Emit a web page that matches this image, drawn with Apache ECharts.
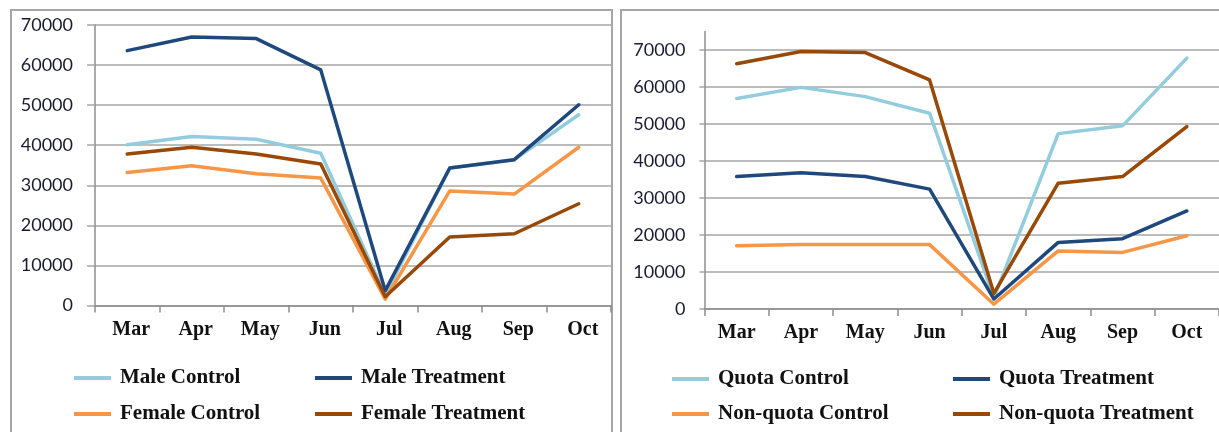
<!DOCTYPE html>
<html>
<head>
<meta charset="utf-8">
<script src="https://cdn.jsdelivr.net/npm/echarts@6/dist/echarts.min.js"></script>
<style>
html,body{margin:0;padding:0;background:#fff;}
#c{width:1219px;height:432px;}
</style>
</head>
<body>
<div id="c"></div>
<script>
const months = ['Mar','Apr','May','Jun','Jul','Aug','Sep','Oct'];
const yTicks = [0,10000,20000,30000,40000,50000,60000,70000];

const maleControl      = [40100, 42200, 41500, 38000, 2600, 34300, 36400, 47600];
const maleTreatment    = [63600, 67000, 66600, 58800, 3700, 34300, 36400, 50100];
const femaleControl    = [33200, 34900, 32900, 31800, 1600, 28600, 27800, 39500];
const femaleTreatment  = [37800, 39500, 37800, 35300, 2200, 17100, 17900, 25400];

const quotaControl       = [56900, 59900, 57400, 52900, 3000, 47400, 49500, 67800];
const quotaTreatment     = [35800, 36800, 35800, 32400, 2700, 18000, 19000, 26500];
const nonQuotaControl    = [17100, 17400, 17400, 17400, 1300, 15700, 15300, 19800];
const nonQuotaTreatment  = [66300, 69600, 69300, 61900, 4200, 34000, 35800, 49300];

const C_LIGHT = '#93cddd', C_DARK = '#1f497d', C_ORANGE = '#f79646', C_BROWN = '#984807';

const chart = echarts.init(document.getElementById('c'), null, {renderer:'canvas'});

const gridCol = '#a6a6a6';
function xAxis(gi, offsetPad){
  return {
    type:'category', gridIndex:gi, data:months, boundaryGap:true,
    axisLine:{show:true, lineStyle:{color:'#8c8c8c', width:1.5}},
    axisTick:{show:true, length:7, lineStyle:{color:'#8c8c8c', width:1.5}},
    axisLabel:{margin:14, fontFamily:'Liberation Serif', fontWeight:'bold', fontSize:20, color:'#111', padding:[0,0,0,offsetPad]},
    splitLine:{show:false}
  };
}
function yAxis(gi, max, tickLen, margin){
  return {
    type:'value', gridIndex:gi, min:0, max:max, interval:10000,
    axisLine:{show:true, lineStyle:{color:'#8c8c8c', width:1.5}},
    axisTick:{show:true, length:tickLen, lineStyle:{color:gridCol, width:1.5}, customValues: yTicks},
    axisLabel:{margin:margin, fontFamily:'Lato', fontSize:18, color:'#1a1a33', customValues: yTicks,
      formatter: v => String(v)},
    splitLine:{show:true, lineStyle:{color:gridCol, width:1.5}}
  };
}
function line(name, data, color, gi){
  return {
    type:'line', name:name, data:data, xAxisIndex:gi, yAxisIndex:gi,
    showSymbol:false, symbol:'none', silent:true, animation:false,
    lineStyle:{color:color, width:3.5, cap:'round', join:'round'},
    itemStyle:{color:color}
  };
}
function legend(name, left, top){
  return {
    data:[name], left:left, top:top, orient:'horizontal', padding:0,
    icon:'rect', itemWidth:37, itemHeight:4,
    textStyle:{fontFamily:'Liberation Serif', fontWeight:'bold', fontSize:21, color:'#111', padding:[0,0,0,4], lineHeight:24},
    selectedMode:false
  };
}

chart.setOption({
  animation:false,
  backgroundColor:'#fff',
  grid:[
    {left:95, top:25, width:516, height:280.5},
    {left:704.5, top:31.5, width:518, height:277.5}
  ],
  xAxis:[xAxis(0,8), xAxis(1,0)],
  yAxis:[yAxis(0,70000,8,22), yAxis(1,75000,5,19)],
  legend:[
    legend('Male Control', 74, 366),
    legend('Male Treatment', 315, 366),
    legend('Female Control', 74, 402),
    legend('Female Treatment', 315, 402),
    legend('Quota Control', 672, 367),
    legend('Quota Treatment', 953, 367),
    legend('Non-quota Control', 672, 402),
    legend('Non-quota Treatment', 953, 402)
  ],
  graphic:[
    {type:'rect', shape:{x:11, y:10, width:601, height:600}, style:{fill:'none', stroke:'#a6a6a6', lineWidth:2}, silent:true},
    {type:'rect', shape:{x:621, y:10, width:700, height:600}, style:{fill:'none', stroke:'#a6a6a6', lineWidth:2}, silent:true}
  ],
  series:[
    line('Male Control', maleControl, C_LIGHT, 0),
    line('Male Treatment', maleTreatment, C_DARK, 0),
    line('Female Control', femaleControl, C_ORANGE, 0),
    line('Female Treatment', femaleTreatment, C_BROWN, 0),
    line('Quota Control', quotaControl, C_LIGHT, 1),
    line('Quota Treatment', quotaTreatment, C_DARK, 1),
    line('Non-quota Control', nonQuotaControl, C_ORANGE, 1),
    line('Non-quota Treatment', nonQuotaTreatment, C_BROWN, 1)
  ]
});
</script>
</body>
</html>
